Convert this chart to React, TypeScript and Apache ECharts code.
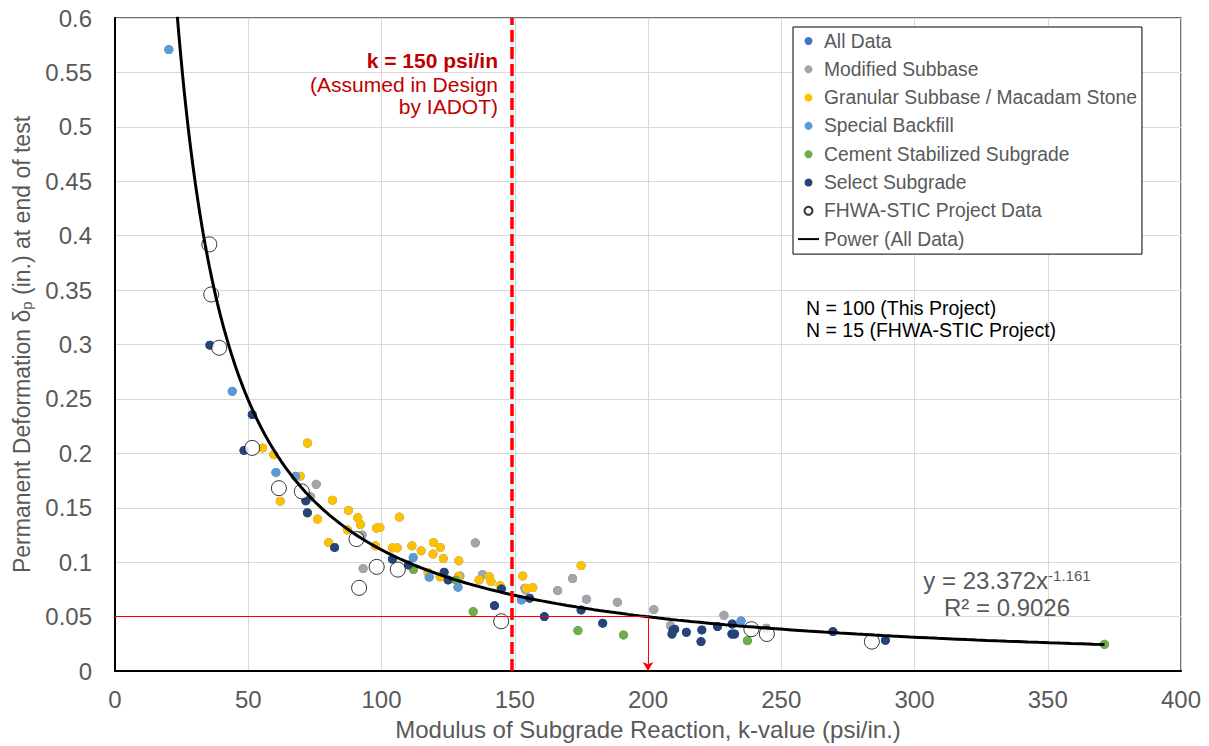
import React, { useEffect, useRef } from "react";
import * as echarts from "echarts";

// ---- Data ----
const modifiedSubbase: [number, number][] = [
  [75.5, 0.1715], [73.4, 0.16], [92.7, 0.125], [93.1, 0.0941], [135.2, 0.1178],
  [129.4, 0.0874], [137.9, 0.0886], [153.8, 0.076], [154.1, 0.0745], [166.1, 0.0739],
  [171.7, 0.085], [176.9, 0.066], [188.5, 0.0632], [202.2, 0.0564], [208.4, 0.0417],
  [228.5, 0.0512], [244.4, 0.0393],
];
const granularSubbase: [number, number][] = [
  [55.4, 0.205], [72.2, 0.2095], [59.6, 0.1988], [69.5, 0.179], [62.0, 0.156],
  [76.0, 0.1396], [81.6, 0.157], [87.6, 0.1475], [91.1, 0.1408], [92.1, 0.1346],
  [87.2, 0.1297], [98.1, 0.1313], [99.4, 0.1319], [106.7, 0.1414], [80.2, 0.118],
  [97.7, 0.115], [104.1, 0.1132], [105.9, 0.1132], [111.4, 0.115], [114.9, 0.1104],
  [119.5, 0.118], [122.1, 0.1135], [119.3, 0.1074], [123.2, 0.1034], [129.0, 0.1012],
  [117.5, 0.0905], [122.0, 0.0865], [128.8, 0.0868], [136.6, 0.0837], [140.4, 0.0868],
  [141.1, 0.0822], [144.5, 0.0785], [153.0, 0.0874], [154.4, 0.076], [156.8, 0.0767],
  [174.9, 0.0969],
];
const specialBackfill: [number, number][] = [
  [20.2, 0.571], [44.0, 0.257], [60.4, 0.1825], [67.8, 0.179], [111.9, 0.1043],
  [117.9, 0.0862], [128.7, 0.077], [152.5, 0.0653], [234.9, 0.046],
];
const cementStabilized: [number, number][] = [
  [112.0, 0.0932], [127.9, 0.0837], [134.4, 0.0546], [173.7, 0.0371], [190.8, 0.0331],
  [237.3, 0.0279], [371.3, 0.0245],
];
const selectSubgrade: [number, number][] = [
  [35.6, 0.2994], [51.5, 0.2356], [48.4, 0.2027], [71.6, 0.1564], [72.2, 0.1454],
  [82.4, 0.1135], [104.1, 0.1028], [110.1, 0.0975], [123.5, 0.0908], [125.0, 0.0837],
  [145.0, 0.0755], [142.4, 0.0601], [155.6, 0.0669], [161.1, 0.05], [174.9, 0.0561],
  [183.0, 0.0439], [209.4, 0.0377], [209.0, 0.034], [210.0, 0.0384], [214.4, 0.0356],
  [220.2, 0.0377], [219.9, 0.027], [226.1, 0.0408], [231.6, 0.0432], [231.5, 0.034],
  [232.5, 0.034], [269.4, 0.0362], [289.1, 0.0282],
];
const fhwaStic: [number, number][] = [
  [35.4, 0.392], [36.1, 0.346], [39.1, 0.297], [51.5, 0.205], [61.5, 0.168],
  [70.1, 0.165], [90.6, 0.1212], [98.2, 0.0957], [106.1, 0.0932], [91.6, 0.0764],
  [144.9, 0.0457], [238.8, 0.0384], [244.6, 0.034], [284.0, 0.027],
];
const allData: [number, number][] = [
  ...modifiedSubbase, ...granularSubbase, ...specialBackfill, ...cementStabilized, ...selectSubgrade,
];

// Power trendline shown on the chart: y = 23.372 x^-1.161
const TREND_A = 23.372;
const TREND_B = -1.161;
const TREND_X_START = 23.4;
const TREND_X_END = 371.3;

const DESIGN_K = 149;
const TARGET_DEF = 0.05;
const TARGET_K = 200;

const seriesNames = [
  "All Data",
  "Modified Subbase",
  "Granular Subbase / Macadam Stone",
  "Special Backfill",
  "Cement Stabilized Subgrade",
  "Select Subgrade",
  "FHWA-STIC Project Data",
  "Power (All Data)",
];

const FONT = "Arial, 'Liberation Sans', Helvetica, sans-serif";
const GRAY = "#595959";

export default function App() {
  const ref = useRef<HTMLDivElement>(null);

  useEffect(() => {
    if (!ref.current) return;
    const chart = echarts.init(ref.current, undefined, { renderer: "svg" });

    const trend: [number, number][] = [];
    const steps = 240;
    for (let i = 0; i <= steps; i++) {
      const x = TREND_X_START * Math.pow(TREND_X_END / TREND_X_START, i / steps);
      trend.push([x, TREND_A * Math.pow(x, TREND_B)]);
    }

    const scatter = (name: string, data: [number, number][], color: string, z: number) => ({
      name,
      type: "scatter",
      data,
      symbol: "circle",
      symbolSize: 9,
      itemStyle: { color, opacity: 1 },
      z,
      emphasis: { disabled: true },
    });

    const legendData = seriesNames.map((n) =>
      n === "Power (All Data)" ? { name: n, itemStyle: { opacity: 0 } } : { name: n }
    );

    const option: any = {
      animation: false,
      backgroundColor: "#ffffff",
      textStyle: { fontFamily: FONT },
      grid: {
        left: 115,
        right: 28,
        top: 18,
        bottom: 75,
        show: true,
        borderColor: "#404040",
        borderWidth: 1.5,
        backgroundColor: "transparent",
      },
      xAxis: {
        type: "value",
        min: 0,
        max: 400,
        interval: 50,
        name: "Modulus of Subgrade Reaction, k-value (psi/in.)",
        nameLocation: "middle",
        nameGap: 46,
        nameTextStyle: { color: GRAY, fontSize: 24, fontFamily: FONT },
        axisLine: { show: true, lineStyle: { color: "#000", width: 2 } },
        axisTick: { show: false },
        axisLabel: { color: GRAY, fontSize: 24, fontFamily: FONT, margin: 16 },
        splitLine: { show: true, lineStyle: { color: "#D9D9D9", width: 1 } },
      },
      yAxis: {
        type: "value",
        min: 0,
        max: 0.6,
        interval: 0.05,
        name: "Permanent Deformation δ{sub|p} (in.) at end of test",
        nameLocation: "middle",
        nameRotate: 90,
        nameGap: 80,
        nameTextStyle: {
          color: GRAY,
          fontSize: 23,
          fontFamily: FONT,
          rich: {
            sub: { fontSize: 15, color: GRAY, fontFamily: FONT, verticalAlign: "bottom", padding: [9, 0, 0, 0] },
          },
        },
        axisLine: { show: true, lineStyle: { color: "#000", width: 2 } },
        axisTick: { show: false },
        axisLabel: {
          color: GRAY,
          fontSize: 24,
          fontFamily: FONT,
          margin: 23,
          formatter: (v: number) => String(Math.round(v * 100) / 100),
        },
        splitLine: { show: true, lineStyle: { color: "#D9D9D9", width: 1 } },
      },
      legend: {
        data: legendData,
        orient: "vertical",
        left: 793,
        top: 27,
        padding: [4, 5, 5, 4],
        itemWidth: 21,
        itemHeight: 8,
        itemGap: 8.3,
        backgroundColor: "#ffffff",
        borderColor: "#000000",
        borderWidth: 1,
        borderRadius: 0,
        selectedMode: false,
        textStyle: { color: GRAY, fontSize: 19.3, fontFamily: FONT, lineHeight: 20 },
      },
      series: [
        scatter("All Data", allData, "#4472C4", 1),
        scatter("Modified Subbase", modifiedSubbase, "#A5A5A5", 2),
        scatter("Granular Subbase / Macadam Stone", granularSubbase, "#FFC000", 2),
        scatter("Special Backfill", specialBackfill, "#5B9BD5", 2),
        scatter("Cement Stabilized Subgrade", cementStabilized, "#70AD47", 2),
        scatter("Select Subgrade", selectSubgrade, "#264478", 2),
        {
          name: "FHWA-STIC Project Data",
          type: "scatter",
          data: fhwaStic,
          symbol: "circle",
          symbolSize: 15,
          itemStyle: { color: "#ffffff", borderColor: "#000000", borderWidth: 1 },
          z: 3,
          emphasis: { disabled: true },
        },
        {
          name: "Power (All Data)",
          type: "line",
          data: trend,
          symbol: "none",
          smooth: false,
          clip: true,
          lineStyle: { color: "#000000", width: 3 },
          itemStyle: { color: "#000000" },
          z: 4,
          emphasis: { disabled: true },
          markLine: {
            silent: true,
            symbol: ["none", "none"],
            label: { show: false },
            emphasis: { disabled: true },
            data: [
              [
                { coord: [0, TARGET_DEF], lineStyle: { color: "#FF0000", width: 1, type: "solid" } },
                { coord: [TARGET_K, TARGET_DEF] },
              ],
              [
                { coord: [TARGET_K, TARGET_DEF], lineStyle: { color: "#FF0000", width: 1, type: "solid" } },
                { coord: [TARGET_K, 0], symbol: "arrow", symbolSize: [8, 9] },
              ],
              [
                { coord: [DESIGN_K, 0], lineStyle: { color: "#FF0000", width: 3.5, type: [12, 5] } },
                { coord: [DESIGN_K, 0.6] },
              ],
            ],
          },
        },
      ],
      graphic: [
        {
          type: "text",
          x: 498,
          y: 60,
          style: { text: "k = 150 psi/in", fill: "#C00000", font: `bold 21px ${FONT}`, textAlign: "right", textVerticalAlign: "middle" },
          z: 10,
        },
        {
          type: "text",
          x: 498,
          y: 84,
          style: { text: "(Assumed in Design", fill: "#C00000", font: `21px ${FONT}`, textAlign: "right", textVerticalAlign: "middle" },
          z: 10,
        },
        {
          type: "text",
          x: 498,
          y: 106.5,
          style: { text: "by IADOT)", fill: "#C00000", font: `21px ${FONT}`, textAlign: "right", textVerticalAlign: "middle" },
          z: 10,
        },
        {
          type: "text",
          x: 806,
          y: 308,
          style: { text: "N = 100 (This Project)", fill: "#000000", font: `19.5px ${FONT}`, textAlign: "left", textVerticalAlign: "middle" },
          z: 10,
        },
        {
          type: "text",
          x: 806,
          y: 330,
          style: { text: "N = 15 (FHWA-STIC Project)", fill: "#000000", font: `19.5px ${FONT}`, textAlign: "left", textVerticalAlign: "middle" },
          z: 10,
        },
        {
          type: "text",
          x: 1007,
          y: 580,
          style: {
            text: "y = 23.372x{sup|-1.161}",
            fill: GRAY,
            font: `24px ${FONT}`,
            textAlign: "center",
            textVerticalAlign: "middle",
            rich: { sup: { fontSize: 15, fill: GRAY, fontFamily: FONT, verticalAlign: "top" } },
          },
          z: 10,
        },
        {
          type: "text",
          x: 1007,
          y: 607,
          style: { text: "R² = 0.9026", fill: GRAY, font: `24px ${FONT}`, textAlign: "center", textVerticalAlign: "middle" },
          z: 10,
        },
      ],
    };

    chart.setOption(option);
    return () => chart.dispose();
  }, []);

  return (
    <div
      ref={ref}
      style={{ position: "fixed", left: 0, top: 0, width: 1209, height: 746, background: "#fff" }}
    />
  );
}
